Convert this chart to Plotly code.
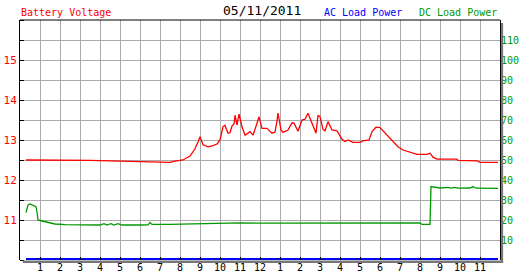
import plotly.graph_objects as go

# ---- data ----
volt_hours = [0.30, 2.00, 3.50, 5.00, 6.50, 7.50, 7.75, 8.15, 8.50, 8.75, 8.90, 9.00, 9.15, 9.40, 9.65, 9.85,
              10.00, 10.15, 10.25, 10.40, 10.50, 10.60, 10.70, 10.75, 10.85, 10.95, 11.10, 11.25, 11.50, 11.65,
              11.85, 11.95, 12.10, 12.35, 12.60, 12.75, 12.85, 12.90, 13.05, 13.15, 13.40, 13.60, 13.70, 13.90,
              14.10, 14.25, 14.40, 14.60, 14.80, 14.90, 15.00, 15.15, 15.25, 15.40, 15.60, 15.85, 16.10, 16.25,
              16.40, 16.65, 17.00, 17.15, 17.45, 17.60, 17.80, 18.00, 18.25, 18.60, 18.90, 19.15, 19.40, 19.60,
              19.85, 20.35, 20.50, 20.65, 20.85, 21.85, 21.90, 22.85, 23.00, 23.90]
battery_voltage = [12.50, 12.50, 12.49, 12.47, 12.45, 12.44, 12.47, 12.50, 12.60, 12.78, 12.95, 13.08, 12.88, 12.83,
                   12.86, 12.90, 13.00, 13.33, 13.37, 13.17, 13.18, 13.35, 13.40, 13.62, 13.37, 13.65, 13.33, 13.12,
                   13.21, 13.12, 13.42, 13.58, 13.29, 13.29, 13.17, 13.20, 13.48, 13.67, 13.25, 13.19, 13.25, 13.43,
                   13.42, 13.22, 13.50, 13.52, 13.67, 13.42, 13.17, 13.62, 13.58, 13.27, 13.23, 13.46, 13.25, 13.23,
                   13.02, 12.96, 13.00, 12.94, 12.94, 12.98, 13.00, 13.21, 13.32, 13.31, 13.17, 12.98, 12.83, 12.75,
                   12.71, 12.67, 12.64, 12.64, 12.67, 12.57, 12.52, 12.52, 12.49, 12.48, 12.44, 12.44]

dc_hours = [0.30, 0.40, 0.50, 0.65, 0.80, 0.85, 0.90, 1.10, 1.35, 1.75, 2.25, 3.00, 4.00, 4.20, 4.35, 4.55, 4.70,
            4.90, 5.10, 6.00, 6.40, 6.50, 6.60, 7.50, 9.00, 10.00, 11.00, 12.00, 14.00, 16.00, 18.00, 20.00,
            20.10, 20.50, 20.55, 20.70, 21.00, 21.40, 21.55, 21.75, 21.90, 22.50, 22.65, 22.80, 23.90]
dc_load_power = [23.7, 27.5, 28.0, 27.5, 26.7, 24.0, 20.0, 19.5, 18.8, 18.0, 17.7, 17.5, 17.5, 18.2, 17.5, 18.2, 17.5,
                 18.2, 17.5, 17.5, 17.6, 18.8, 17.8, 17.8, 18.2, 18.4, 18.6, 18.4, 18.5, 18.5, 18.6, 18.6,
                 17.8, 17.8, 36.7, 36.4, 36.0, 36.3, 35.9, 36.3, 35.9, 36.0, 36.7, 35.9, 35.8]

ac_hours = [0.30, 23.90]
ac_load_power = [0, 0]

hour_ticks = list(range(1, 24))
hour_labels = ["1", "2", "3", "4", "5", "6", "7", "8", "9", "10", "11", "12",
               "1", "2", "3", "4", "5", "6", "7", "8", "9", "10", "11"]
volt_ticks = [11, 12, 13, 14, 15]
power_ticks = [10, 20, 30, 40, 50, 60, 70, 80, 90, 100, 110]

RED = "#ff0000"
GREEN = "#009900"
BLUE = "#0000ff"
GRID = "#aaaaaa"
FONT = "DejaVu Sans Mono"

fig = go.Figure()
fig.add_trace(go.Scatter(x=ac_hours, y=ac_load_power, yaxis="y2", mode="lines",
                         line=dict(color=BLUE, width=4), name="AC Load Power", hoverinfo="skip"))
fig.add_trace(go.Scatter(x=dc_hours, y=dc_load_power, yaxis="y2", mode="lines",
                         line=dict(color=GREEN, width=1.3), name="DC Load Power"))
fig.add_trace(go.Scatter(x=volt_hours, y=battery_voltage, yaxis="y", mode="lines",
                         line=dict(color=RED, width=1.3), name="Battery Voltage"))

fig.update_layout(
    template="none",
    width=527, height=280,
    margin=dict(l=20, r=27, t=20, b=20, pad=0, autoexpand=False),
    paper_bgcolor="white", plot_bgcolor="white",
    showlegend=False,
    font=dict(family=FONT, size=10, color="black"),
    xaxis=dict(range=[0, 24], tickvals=hour_ticks, ticktext=hour_labels, automargin=False,
               showgrid=True, gridcolor=GRID, gridwidth=1,
               ticks="inside", ticklen=3, tickcolor="black", tickwidth=1,
               showline=False, zeroline=False,
               tickfont=dict(family=FONT, size=10, color="black"), fixedrange=True),
    yaxis=dict(range=[10, 16], tickvals=volt_ticks, ticks="", automargin=False,
               showgrid=True, gridcolor=GRID, gridwidth=1,
               minor=dict(dtick=0.5, tick0=10, ticks="inside", ticklen=4, tickcolor="black",
                          showgrid=True, gridcolor=GRID, gridwidth=1),
               showline=True, linecolor="black", linewidth=1, mirror=True,
               zeroline=False, tickfont=dict(family=FONT, size=11, color=RED)),
    yaxis2=dict(range=[0, 120], overlaying="y", side="right", tickvals=power_ticks, automargin=False,
                showgrid=False, ticks="", showline=False, zeroline=False,
                tickfont=dict(family=FONT, size=10, color=GREEN)),
)

# frame top line and drop shadow
fig.add_shape(type="line", xref="paper", yref="paper", x0=0, x1=1, y0=1, y1=1,
              line=dict(color="black", width=1), layer="above")
fig.add_shape(type="rect", xref="paper", yref="paper", x0=1.002, x1=1.0065, y0=-0.0125, y1=0.9875,
              line=dict(width=0), fillcolor="#777777", layer="above")
fig.add_shape(type="rect", xref="paper", yref="paper", x0=0.006, x1=1.0065, y0=-0.0125, y1=-0.0021,
              line=dict(width=0), fillcolor="#777777", layer="above")

# titles / legends
fig.add_annotation(text="05/11/2011", xref="paper", yref="paper", x=0.505, y=1.0375,
                   xanchor="center", yanchor="middle", showarrow=False,
                   font=dict(family=FONT, size=13, color="black"))
fig.add_annotation(text="Battery Voltage", xref="paper", yref="paper", x=-0.002, y=1.03,
                   xanchor="left", yanchor="middle", showarrow=False,
                   font=dict(family=FONT, size=10, color=RED))
fig.add_annotation(text="AC Load Power", xref="paper", yref="paper", x=0.8,
                   y=1.03, xanchor="right", yanchor="middle", showarrow=False,
                   font=dict(family=FONT, size=10, color=BLUE))
fig.add_annotation(text="DC Load Power", xref="paper", yref="paper", x=0.998,
                   y=1.03, xanchor="right", yanchor="middle", showarrow=False,
                   font=dict(family=FONT, size=10, color=GREEN))

fig.write_html("out.html")
